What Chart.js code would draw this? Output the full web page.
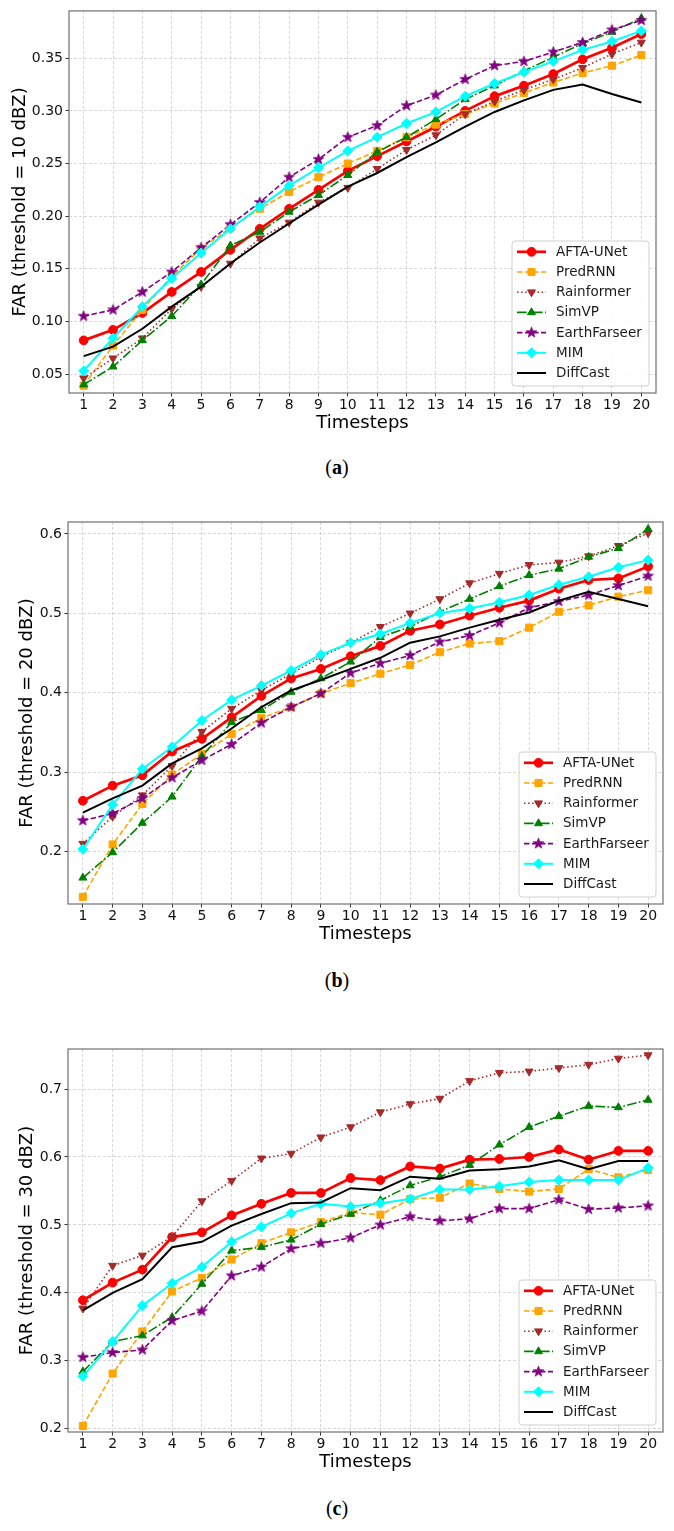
<!DOCTYPE html>
<html><head><meta charset="utf-8">
<script src="https://cdn.jsdelivr.net/npm/chart.js@4/dist/chart.umd.min.js"></script>
<style>
html,body{margin:0;padding:0;background:#fff;}
body{width:674px;height:1531px;position:relative;overflow:hidden;}
canvas{position:absolute;left:0;}
.cap{position:absolute;left:0;width:674px;text-align:center;font-family:'Liberation Serif','DejaVu Serif',serif;font-size:20px;color:#000;line-height:24px;}
</style></head><body>
<canvas id="cA" width="674" height="441" style="top:0px;width:674px;height:441px"></canvas>
<div class="cap" style="top:455px">(<b>a</b>)</div>
<canvas id="cB" width="674" height="472" style="top:480px;width:674px;height:472px"></canvas>
<div class="cap" style="top:968px">(<b>b</b>)</div>
<canvas id="cC" width="674" height="470" style="top:1010px;width:674px;height:470px"></canvas>
<div class="cap" style="top:1496px">(<b>c</b>)</div>
<script>
// ---------------- DATA ----------------
const timesteps = ['1','2','3','4','5','6','7','8','9','10','11','12','13','14','15','16','17','18','19','20'];
const modelNames = ['AFTA-UNet','PredRNN','Rainformer','SimVP','EarthFarseer','MIM','DiffCast'];

const yTicksA = [0.05,0.10,0.15,0.20,0.25,0.30,0.35];
const yTicksB = [0.2,0.3,0.4,0.5,0.6];
const yTicksC = [0.2,0.3,0.4,0.5,0.6,0.7];

// threshold = 10 dBZ
const afta10    = [0.082,0.092,0.108,0.128,0.147,0.168,0.188,0.207,0.225,0.243,0.257,0.271,0.285,0.300,0.314,0.324,0.335,0.349,0.360,0.373];
const predrnn10 = [0.039,0.077,0.111,0.143,0.169,0.189,0.207,0.223,0.237,0.250,0.262,0.275,0.287,0.297,0.307,0.317,0.327,0.336,0.343,0.353];
const rain10    = [0.046,0.065,0.084,0.112,0.133,0.155,0.179,0.194,0.213,0.227,0.245,0.263,0.277,0.297,0.309,0.320,0.330,0.341,0.354,0.365];
const simvp10   = [0.040,0.057,0.082,0.105,0.135,0.172,0.185,0.204,0.220,0.239,0.261,0.275,0.292,0.311,0.324,0.338,0.351,0.364,0.375,0.388];
const earth10   = [0.105,0.111,0.128,0.147,0.170,0.192,0.213,0.237,0.254,0.275,0.286,0.305,0.315,0.330,0.343,0.347,0.356,0.365,0.377,0.386];
const mim10     = [0.053,0.084,0.114,0.141,0.165,0.188,0.209,0.229,0.246,0.262,0.275,0.288,0.299,0.314,0.326,0.337,0.347,0.358,0.366,0.376];
const diff10    = [0.067,0.076,0.093,0.114,0.133,0.155,0.175,0.193,0.211,0.228,0.241,0.256,0.270,0.285,0.299,0.310,0.320,0.325,0.316,0.308];

// threshold = 20 dBZ
const afta20    = [0.264,0.283,0.296,0.326,0.342,0.369,0.396,0.418,0.430,0.446,0.459,0.478,0.486,0.497,0.507,0.516,0.531,0.542,0.544,0.559];
const predrnn20 = [0.143,0.209,0.260,0.297,0.323,0.348,0.368,0.382,0.399,0.412,0.424,0.435,0.451,0.462,0.465,0.482,0.502,0.510,0.521,0.529];
const rain20    = [0.210,0.244,0.271,0.308,0.351,0.380,0.403,0.424,0.445,0.463,0.483,0.500,0.518,0.538,0.550,0.561,0.564,0.572,0.585,0.601];
const simvp20   = [0.167,0.199,0.236,0.269,0.320,0.363,0.378,0.401,0.418,0.439,0.470,0.483,0.502,0.518,0.534,0.548,0.556,0.571,0.582,0.606];
const earth20   = [0.239,0.248,0.267,0.293,0.315,0.335,0.362,0.382,0.399,0.425,0.437,0.447,0.464,0.472,0.488,0.507,0.515,0.523,0.535,0.547];
const mim20     = [0.203,0.259,0.304,0.332,0.365,0.391,0.409,0.428,0.448,0.463,0.474,0.488,0.500,0.506,0.514,0.523,0.536,0.546,0.558,0.567];
const diff20    = [0.249,0.267,0.283,0.311,0.330,0.355,0.382,0.403,0.416,0.430,0.444,0.463,0.471,0.482,0.492,0.501,0.516,0.527,0.518,0.509];

// threshold = 30 dBZ
const afta30    = [0.389,0.415,0.434,0.482,0.489,0.514,0.531,0.547,0.547,0.569,0.566,0.586,0.583,0.596,0.597,0.600,0.611,0.596,0.609,0.609];
const predrnn30 = [0.204,0.281,0.343,0.402,0.422,0.449,0.473,0.489,0.504,0.518,0.515,0.538,0.540,0.561,0.553,0.549,0.553,0.582,0.570,0.581];
const rain30    = [0.377,0.440,0.455,0.483,0.535,0.565,0.598,0.605,0.629,0.644,0.666,0.678,0.686,0.712,0.724,0.726,0.731,0.736,0.745,0.750];
const simvp30   = [0.284,0.328,0.337,0.364,0.413,0.462,0.467,0.478,0.501,0.516,0.536,0.558,0.571,0.588,0.618,0.644,0.660,0.675,0.673,0.684];
const earth30   = [0.305,0.312,0.316,0.359,0.373,0.425,0.438,0.465,0.473,0.481,0.500,0.512,0.506,0.509,0.524,0.524,0.537,0.523,0.525,0.528];
const mim30     = [0.277,0.328,0.381,0.414,0.438,0.475,0.497,0.517,0.531,0.527,0.532,0.538,0.552,0.552,0.557,0.563,0.566,0.566,0.566,0.584];
const diff30    = [0.374,0.400,0.420,0.467,0.475,0.499,0.516,0.532,0.533,0.554,0.551,0.571,0.568,0.580,0.582,0.586,0.595,0.582,0.594,0.594];

// ---------------- STYLE ----------------
const FONT = "'DejaVu Sans', 'Liberation Sans', sans-serif";
Chart.defaults.font.family = FONT;

function starMarker(color, r) {
  const s = Math.ceil(r * 2 + 3);
  const c = document.createElement('canvas');
  c.width = s; c.height = s;
  const g = c.getContext('2d');
  g.fillStyle = color; g.strokeStyle = color; g.lineWidth = 0.8;
  g.beginPath();
  for (let k = 0; k < 10; k++) {
    const ang = -Math.PI / 2 + k * Math.PI / 5;
    const rr = (k % 2) ? r * 0.4 : r;
    const px = s / 2 + rr * Math.cos(ang), py = s / 2 + rr * Math.sin(ang);
    if (k === 0) g.moveTo(px, py); else g.lineTo(px, py);
  }
  g.closePath(); g.fill(); g.stroke();
  return c;
}
const STAR = starMarker('#800080', 5.6);

const seriesStyles = [
  {color:'#ff0000', width:2.7, dash:[],            point:'circle',   radius:4.4, rot:0},
  {color:'#ffa500', width:1.6, dash:[5.5,2.5],     point:'rect',     radius:5.0, rot:0},
  {color:'#a52a2a', width:1.6, dash:[1.5,2.6],     point:'triangle', radius:4.6, rot:180},
  {color:'#008000', width:1.6, dash:[9.6,2.4,1.6,2.4], point:'triangle', radius:4.6, rot:0},
  {color:'#800080', width:1.6, dash:[5.5,2.5],     point:STAR,       radius:5.0, rot:0},
  {color:'#00ffff', width:2.0, dash:[],            point:'rectRot',  radius:5.0, rot:0},
  {color:'#000000', width:2.0, dash:[],            point:'circle',   radius:0,   rot:0}
];

function buildDatasets(seriesList) {
  return seriesList.map((data, i) => {
    const st = seriesStyles[i];
    return {
      label: modelNames[i], data: data,
      borderColor: st.color, backgroundColor: st.color,
      borderWidth: st.width, borderDash: st.dash,
      pointStyle: st.point, pointRadius: st.radius, pointHoverRadius: st.radius,
      pointRotation: st.rot,
      pointBackgroundColor: st.color, pointBorderColor: st.color, pointBorderWidth: 1,
      fill: false, tension: 0, order: seriesList.length - i
    };
  });
}

const mplFrameLegend = {
  id: 'mplFrameLegend',
  afterDatasetsDraw(chart) {
    const ctx = chart.ctx, ca = chart.chartArea;
    ctx.save();
    ctx.setLineDash([]);
    ctx.strokeStyle = '#707070'; ctx.lineWidth = 1.2;
    ctx.strokeRect(ca.left, ca.top, ca.right - ca.left, ca.bottom - ca.top);
    // legend box
    const W = 137, H = 145;
    const x0 = ca.right - 7 - W, y0 = ca.bottom - 7 - H;
    const r = 3;
    ctx.beginPath();
    ctx.moveTo(x0 + r, y0); ctx.lineTo(x0 + W - r, y0); ctx.quadraticCurveTo(x0 + W, y0, x0 + W, y0 + r);
    ctx.lineTo(x0 + W, y0 + H - r); ctx.quadraticCurveTo(x0 + W, y0 + H, x0 + W - r, y0 + H);
    ctx.lineTo(x0 + r, y0 + H); ctx.quadraticCurveTo(x0, y0 + H, x0, y0 + H - r);
    ctx.lineTo(x0, y0 + r); ctx.quadraticCurveTo(x0, y0, x0 + r, y0); ctx.closePath();
    ctx.fillStyle = 'rgba(255,255,255,0.85)'; ctx.fill();
    ctx.strokeStyle = '#d0d0d0'; ctx.lineWidth = 1; ctx.stroke();
    chart.data.datasets.forEach((ds, i) => {
      const y = y0 + 10.8 + i * 20.2;
      ctx.setLineDash(ds.borderDash || []);
      ctx.strokeStyle = ds.borderColor; ctx.lineWidth = ds.borderWidth;
      ctx.beginPath(); ctx.moveTo(x0 + 5, y); ctx.lineTo(x0 + 34, y); ctx.stroke();
      ctx.setLineDash([]);
      if (ds.pointRadius > 0) {
        ctx.fillStyle = ds.pointBackgroundColor; ctx.strokeStyle = ds.pointBorderColor; ctx.lineWidth = 1;
        Chart.helpers.drawPoint(ctx, {pointStyle: ds.pointStyle, radius: ds.pointRadius, rotation: ds.pointRotation || 0, borderWidth: 1}, x0 + 19.5, y);
      }
      ctx.fillStyle = '#1a1a1a'; ctx.font = "13.5px " + FONT;
      ctx.textAlign = 'left'; ctx.textBaseline = 'middle';
      ctx.fillText(ds.label, x0 + 44, y + 0.5);
    });
    ctx.restore();
  }
};

const GRID = 'rgba(165,165,165,0.55)';

function makeChart(id, seriesList, yTicks, yMin, yMax, dec, yTitle, yWidth, padRight, padTop, yTitlePad) {
  return new Chart(document.getElementById(id), {
    type: 'line',
    data: { labels: timesteps, datasets: buildDatasets(seriesList) },
    plugins: [mplFrameLegend],
    options: {
      responsive: false, animation: false, events: [],
      layout: { padding: { left: 0, right: padRight, top: padTop, bottom: 0 } },
      plugins: { legend: { display: false }, tooltip: { enabled: false } },
      scales: {
        x: {
          type: 'category', offset: true,
          grid: { offset: false, color: GRID, lineWidth: 0.8, tickLength: 3.5, tickColor: '#333', tickWidth: 1 },
          border: { display: false, dash: [3, 2] },
          ticks: { color: '#111', font: { family: FONT, size: 14 }, padding: 0.5, maxRotation: 0, autoSkip: false },
          title: { display: true, text: 'Timesteps', color: '#000', font: { family: FONT, size: 18 }, padding: { top: 0, bottom: 7 } },
          afterFit: s => { s.height = 48; }
        },
        y: {
          type: 'linear', min: yMin, max: yMax,
          afterBuildTicks: s => { s.ticks = yTicks.map(v => ({ value: v })); },
          grid: { color: GRID, lineWidth: 0.8, tickLength: 3.5, tickColor: '#333', tickWidth: 1 },
          border: { display: false, dash: [3, 2] },
          ticks: { color: '#111', font: { family: FONT, size: 14 }, padding: 2.5, callback: v => Number(v).toFixed(dec) },
          title: { display: true, text: yTitle, color: '#000', font: { family: FONT, size: 18 }, padding: { top: yTitlePad, bottom: 0 } },
          afterFit: s => { s.width = yWidth; }
        }
      }
    }
  });
}

makeChart('cA', [afta10, predrnn10, rain10, simvp10, earth10, mim10, diff10], yTicksA, 0.032, 0.395, 2, 'FAR (threshold = 10 dBZ)', 69, 18, 10, 10);
makeChart('cB', [afta20, predrnn20, rain20, simvp20, earth20, mim20, diff20], yTicksB, 0.134, 0.615, 1, 'FAR (threshold = 20 dBZ)', 68, 11, 42, 16.5);
makeChart('cC', [afta30, predrnn30, rain30, simvp30, earth30, mim30, diff30], yTicksC, 0.195, 0.759, 1, 'FAR (threshold = 30 dBZ)', 68, 11, 39, 16.5);
</script>
</body></html>
